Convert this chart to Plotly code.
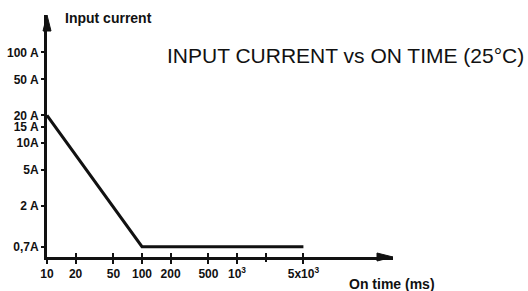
import plotly.graph_objects as go

# Data
on_time_ms = [10, 100, 5000]
input_current_a = [20, 0.7, 0.7]

y_tick_vals = [100, 50, 20, 15, 10, 5, 2, 0.7]
y_tick_text = ["100 A", "50 A", "20 A", "15 A", "10A", "5A", "2 A", "0,7A"]
x_tick_vals = [10, 20, 50, 100, 200, 500, 1000, 5000]
x_tick_text = ["10", "20", "50", "100", "200", "500", "10<sup>3</sup>", "5x10<sup>3</sup>"]
x_minor_tick_vals = [2000]

title_text = "INPUT CURRENT vs ON TIME (25°C)"
y_title = "Input current"
x_title = "On time (ms)"

INK = "#111111"
FAM = "Liberation Sans, Arial, sans-serif"
tick_font = dict(family=FAM, size=12, color=INK, weight="bold")

fig = go.Figure()
fig.add_trace(go.Scatter(
    x=on_time_ms, y=input_current_a, mode="lines",
    line=dict(color=INK, width=3), cliponaxis=False, showlegend=False,
    hoverinfo="skip",
))

xr = [1.0, 4.642]
yr = [-0.269, 2.4135]
all_x_ticks = x_tick_vals + x_minor_tick_vals

fig.update_layout(
    width=528, height=291,
    margin=dict(l=47, r=135, t=15, b=34, autoexpand=False),
    paper_bgcolor="white", plot_bgcolor="white",
    xaxis=dict(type="log", range=xr, tickvals=x_tick_vals, ticktext=x_tick_text,
               showgrid=False, zeroline=False, showline=True, linecolor=INK, linewidth=3,
               ticks="outside", ticklen=4, tickwidth=2, tickcolor=INK, tickfont=tick_font,
               automargin=False),
    xaxis2=dict(type="log", range=xr, tickvals=all_x_ticks, overlaying="x", side="bottom",
                showgrid=False, zeroline=False, showline=False, showticklabels=False,
                ticks="inside", ticklen=4, tickwidth=2, tickcolor=INK, automargin=False),
    xaxis3=dict(type="log", range=xr, tickvals=x_minor_tick_vals, overlaying="x", side="bottom",
                showgrid=False, zeroline=False, showline=False, showticklabels=False,
                ticks="outside", ticklen=4, tickwidth=2, tickcolor=INK, automargin=False),
    yaxis=dict(type="log", range=yr, tickvals=y_tick_vals, ticktext=y_tick_text,
               showgrid=False, zeroline=False, showline=True, linecolor=INK, linewidth=3,
               ticks="outside", ticklen=3, tickwidth=2, tickcolor=INK, tickfont=tick_font,
               automargin=False),
)
# invisible traces to activate the overlay tick axes
for ax in ("x2", "x3"):
    fig.add_trace(go.Scatter(x=[on_time_ms[0]], y=[input_current_a[0]], xaxis=ax, mode="markers",
                             marker=dict(opacity=0), showlegend=False, hoverinfo="skip"))

# arrow heads
fig.add_shape(type="path", xref="paper", yref="paper", xsizemode="pixel", ysizemode="pixel",
              xanchor=1, yanchor=0, path="M 0,0 L -16,4 L -16,-4 Z",
              fillcolor=INK, line=dict(color=INK, width=1))
fig.add_shape(type="path", xref="paper", yref="paper", xsizemode="pixel", ysizemode="pixel",
              xanchor=0, yanchor=1, path="M 0,0 L -4,-16 L 4,-16 Z",
              fillcolor=INK, line=dict(color=INK, width=1))

fig.add_annotation(text=title_text, xref="paper", yref="paper", x=0.341, y=0.8306,
                   xanchor="left", yanchor="middle", showarrow=False,
                   font=dict(family=FAM, size=21, color=INK))
fig.add_annotation(text=y_title, xref="paper", yref="paper", x=0.046, y=0.988,
                   xanchor="left", yanchor="middle", showarrow=False,
                   font=dict(family=FAM, size=14, color=INK, weight="bold"))
fig.add_annotation(text=x_title, xref="paper", yref="paper", x=0.867, y=-0.112,
                   xanchor="left", yanchor="middle", showarrow=False,
                   font=dict(family=FAM, size=14, color=INK, weight="bold"))

fig.write_html("out.html", config={"displayModeBar": False},
               post_script="document.body.style.margin='0';")
